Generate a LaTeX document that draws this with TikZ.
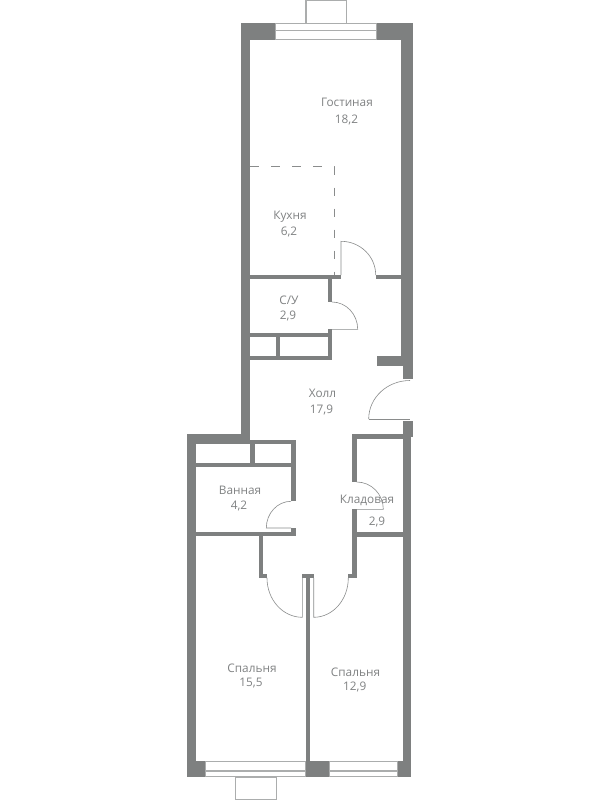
\documentclass[tikz,border=0pt]{standalone}
\usepackage{fontspec}
\setmainfont{Open Sans}
\definecolor{wallgray}{HTML}{7E8080}
\definecolor{thingray}{HTML}{8A8C8C}
\definecolor{wingray}{HTML}{ABADAD}
\definecolor{labelgray}{HTML}{808283}
\tikzset{
  wall/.style={fill=wallgray,draw=none},
  doorline/.style={draw=thingray,line width=0.6pt},
  winline/.style={draw=wingray,line width=1pt},
  balcony/.style={draw=wingray,line width=1.2pt,fill=white},
  partition/.style={draw=thingray,line width=0.8pt,dash pattern=on 8.5pt off 12.5pt},
  roomlabel/.style={text=labelgray,font=\fontsize{11.8}{14}\selectfont,inner sep=0pt,align=center}
}
\newcommand{\wl}[4]{\fill[wall] (#1,#2) rectangle (#3,#4);}
\begin{document}
\begin{tikzpicture}[x=1pt,y=-1pt]
\useasboundingbox (0,0) rectangle (600,800);
\fill[white] (0,0) rectangle (600,800);
% upper outer walls
\wl{241}{23.5}{275.7}{39.7}
\wl{376.3}{23.5}{413}{39.7}
\wl{241}{23.5}{249.7}{444}
\wl{400.7}{23.5}{413}{356}
\wl{377.3}{356}{413}{365.7}
\wl{402.7}{365.7}{413}{379}
\wl{402.7}{421}{413}{437}
\wl{402.7}{437}{411}{777}
% top window
\draw[winline] (275.7,24) rectangle (376.3,39.5);
\draw[winline,line width=1.4pt] (275.7,30.3) -- (376.3,30.3);
\draw[balcony] (306,0.7) rectangle (346.7,23.5);
% kitchen partition
\draw[partition] (250,166.5) -- (334,166.5) -- (334,276);
% kitchen / WC walls
\wl{250}{274.7}{341.3}{279.3}
\wl{375.7}{274.7}{400.7}{279.3}
\wl{327.7}{279}{332}{302}
\wl{327.7}{329.3}{332}{359.7}
\wl{250}{333}{332}{337}
\wl{250}{355.7}{332}{359.7}
\wl{275.7}{337}{280.3}{356}
% doors upper
\draw[doorline] (341,275) -- (341,241.3) .. controls (360.2,241.3) and (375.7,256.4) .. (375.7,275);
\draw[doorline] (332,302) .. controls (346.2,302) and (357.7,314.3) .. (357.7,329.3) -- (332,329.3);
\draw[doorline,line width=0.9pt] (368.7,419) -- (410,419);
\draw[doorline] (410,380.5) .. controls (387.2,380.5) and (368.7,397.7) .. (368.7,419);
% lower-left block
\wl{187}{434.3}{249.7}{444}
\wl{187}{434.3}{195.7}{777}
\wl{195.7}{440}{295.7}{444}
\wl{291}{440}{295.7}{501}
\wl{250.3}{444}{254.7}{463}
\wl{195.7}{462.7}{291}{467.3}
\wl{291}{528}{295.7}{536.3}
\wl{195.7}{532}{295.7}{536.3}
\wl{259}{536}{263.3}{578.3}
\wl{259}{574.3}{267}{578.3}
% centre
\wl{301.7}{574.3}{313.7}{578.3}
\wl{305.7}{578}{310.3}{777}
% storage
\wl{352.3}{434.3}{403}{438.7}
\wl{352.3}{434.3}{356.7}{481.7}
\wl{352.3}{509.3}{356.7}{578.3}
\wl{348}{574.3}{356.7}{578.3}
\wl{356.7}{532}{403}{536.7}
% lower doors
\draw[doorline] (291,501.3) .. controls (277.4,501.3) and (266.3,513.3) .. (266.3,528) -- (291,528);
\draw[doorline] (356.7,482) .. controls (371.4,482) and (383.3,494.2) .. (383.3,509.3) -- (356.7,509.3);
\draw[doorline] (267,578) .. controls (267,599.7) and (282.8,617.3) .. (302.3,617.3) -- (302.3,578);
\draw[doorline] (348.3,578) .. controls (348.3,599.7) and (332.8,617.3) .. (313.7,617.3) -- (313.7,578);
% bottom windows
\wl{187}{761.3}{205.3}{777}
\wl{305.7}{761.3}{329}{777}
\wl{397}{761.3}{411}{777}
\draw[winline] (205.3,761.7) rectangle (305.7,776.6);
\draw[winline,line width=1.4pt] (205.3,771) -- (305.7,771);
\draw[winline] (329,761.7) rectangle (397,776.6);
\draw[winline,line width=1.4pt] (329,771) -- (397,771);
\draw[balcony] (235.3,777) rectangle (276.7,799.4);
% labels
\node[roomlabel] (gost) at (347,102) {Гостиная};
\node[roomlabel] (gostA) at (346.5,119.5) {18,2};
\node[roomlabel] (kukh) at (290,216.5) {Кухня};
\node[roomlabel] (kukhA) at (289,231.5) {6,2};
\node[roomlabel] (su) at (289,300.5) {С/У};
\node[roomlabel] (suA) at (288,316) {2,9};
\node[roomlabel] (holl) at (322.5,393) {Холл};
\node[roomlabel] (hollA) at (321.5,410) {17,9};
\node[roomlabel] (van) at (240,490) {Ванная};
\node[roomlabel] (vanA) at (239,506) {4,2};
\node[roomlabel] (klad) at (367,500) {Кладовая};
\node[roomlabel] (kladA) at (377,522) {2,9};
\node[roomlabel] (spa) at (252,668.5) {Спальня};
\node[roomlabel] (spaA) at (251,683) {15,5};
\node[roomlabel] (spb) at (355.5,672.5) {Спальня};
\node[roomlabel] (spbA) at (354.7,687) {12,9};
\end{tikzpicture}
\end{document}
